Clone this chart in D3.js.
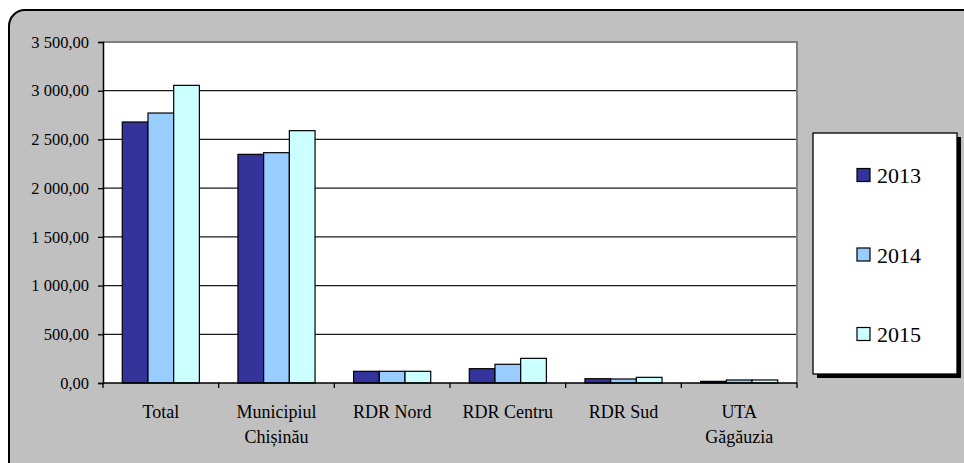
<!DOCTYPE html>
<html>
<head>
<meta charset="utf-8">
<script src="https://cdn.jsdelivr.net/npm/d3@7"></script>
<style>
  html, body { margin: 0; padding: 0; background: #fff; }
  svg { display: block; }
</style>
</head>
<body>
<svg id="chart" width="964" height="463"></svg>
<script>
// Regions and yearly values
const categories = ["Total", "Municipiul Chișinău", "RDR Nord", "RDR Centru", "RDR Sud", "UTA Găgăuzia"];
const categoryLines = [["Total"], ["Municipiul", "Chișinău"], ["RDR Nord"], ["RDR Centru"], ["RDR Sud"], ["UTA", "Găgăuzia"]];
const years = ["2013", "2014", "2015"];
const values2013 = [2679, 2347, 120, 147, 44, 17];
const values2014 = [2771, 2364, 120, 192, 41, 31];
const values2015 = [3055, 2590, 120, 253, 58, 31];
const yTicks = [0, 500, 1000, 1500, 2000, 2500, 3000, 3500];
const colors = ["#333399", "#99CCFF", "#CCFFFF"];

const seriesValues = [values2013, values2014, values2015];
const FONT = "'Liberation Serif', 'Times New Roman', Times, 'Nimbus Roman', 'Nimbus Roman No9 L', FreeSerif, 'Noto Serif', 'DejaVu Serif', Georgia, serif";

const svg = d3.select("#chart");

// Outer chart frame (rounded, grey)
svg.append("rect")
  .attr("x", 9).attr("y", 10)
  .attr("width", 1000).attr("height", 500)
  .attr("rx", 16).attr("ry", 16)
  .attr("fill", "#C0C0C0")
  .attr("stroke", "#000").attr("stroke-width", 2);

const plot = { left: 103, right: 797, top: 42, bottom: 383 };

const x0 = d3.scaleBand().domain(categories).range([plot.left, plot.right]).padding(0);
const x1 = d3.scaleBand().domain(years).range([0, x0.bandwidth()]).paddingInner(0).paddingOuter(0.75);
const y = d3.scaleLinear().domain([0, 3500]).range([plot.bottom, plot.top]);

// Plot area background
svg.append("rect")
  .attr("x", plot.left).attr("y", plot.top)
  .attr("width", plot.right - plot.left).attr("height", plot.bottom - plot.top)
  .attr("fill", "#fff");

// Horizontal gridlines
svg.append("g")
  .selectAll("line")
  .data(yTicks.filter(t => t > 0 && t < 3500))
  .join("line")
  .attr("x1", plot.left).attr("x2", plot.right)
  .attr("y1", d => y(d)).attr("y2", d => y(d))
  .attr("stroke", "#1a1a1a").attr("stroke-width", 1.3);

// Plot area border (top and right)
svg.append("path")
  .attr("d", `M${plot.left},${y(3500)}H${plot.right}V${plot.bottom}`)
  .attr("fill", "none")
  .attr("stroke", "#808080").attr("stroke-width", 2);

// Bars
const rows = categories.map((c, i) => ({ cat: c, vals: years.map((yr, s) => ({ yr, s, v: seriesValues[s][i] })) }));
svg.append("g")
  .selectAll("g")
  .data(rows)
  .join("g")
  .attr("transform", d => `translate(${x0(d.cat)},0)`)
  .selectAll("rect")
  .data(d => d.vals)
  .join("rect")
  .attr("x", d => x1(d.yr))
  .attr("y", d => y(d.v))
  .attr("width", x1.bandwidth())
  .attr("height", d => y(0) - y(d.v))
  .attr("fill", d => colors[d.s])
  .attr("stroke", "#000").attr("stroke-width", 1.2);

// Y axis
const locale = d3.formatLocale({ decimal: ",", thousands: "\u00a0", grouping: [3], currency: ["", ""] });
const fmt = locale.format(",.2f");
const yAxis = svg.append("g")
  .attr("transform", `translate(${plot.left},0)`)
  .call(d3.axisLeft(y).tickValues(yTicks).tickFormat(fmt).tickSize(5).tickPadding(9));
yAxis.attr("font-family", null).attr("font-size", null);
yAxis.select(".domain").attr("stroke", "#000").attr("stroke-width", 1.5);
yAxis.selectAll(".tick line").attr("stroke", "#000").attr("stroke-width", 1.3);
yAxis.selectAll(".tick text")
  .style("font-family", FONT)
  .style("font-size", "16.5px")
  .attr("fill", "#000");

// X axis with tick marks at category boundaries
const xAxisG = svg.append("g").attr("transform", `translate(0,${plot.bottom})`);
xAxisG.append("line")
  .attr("x1", plot.left).attr("x2", plot.right)
  .attr("stroke", "#000").attr("stroke-width", 1.5);
const boundaries = categories.map(c => x0(c)).concat([plot.right]);
xAxisG.selectAll("line.tk")
  .data(boundaries)
  .join("line")
  .attr("class", "tk")
  .attr("x1", d => d).attr("x2", d => d)
  .attr("y1", 0).attr("y2", 5)
  .attr("stroke", "#000").attr("stroke-width", 1.3);

// Category labels
const labels = svg.append("g");
categories.forEach((c, i) => {
  const cx = x0(c) + x0.bandwidth() / 2;
  const t = labels.append("text")
    .attr("x", cx)
    .attr("y", 418)
    .attr("text-anchor", "middle")
    .style("font-family", FONT)
    .style("font-size", "18px")
    .attr("fill", "#000");
  categoryLines[i].forEach((line, k) => {
    t.append("tspan")
      .attr("x", cx)
      .attr("dy", k === 0 ? 0 : 25)
      .text(line);
  });
});

// Legend
const lg = { x: 813, y: 133, w: 144, h: 241 };
svg.append("rect")
  .attr("x", lg.x + 4).attr("y", lg.y + 4)
  .attr("width", lg.w).attr("height", lg.h)
  .attr("fill", "#000");
svg.append("rect")
  .attr("x", lg.x).attr("y", lg.y)
  .attr("width", lg.w).attr("height", lg.h)
  .attr("fill", "#fff")
  .attr("stroke", "#000").attr("stroke-width", 1.3);

const legendY = d3.scalePoint().domain(years).range([175, 334]);
const items = svg.append("g")
  .selectAll("g")
  .data(years)
  .join("g")
  .attr("transform", d => `translate(857,${legendY(d)})`);
items.append("rect")
  .attr("x", 0).attr("y", -6.5)
  .attr("width", 13).attr("height", 13)
  .attr("fill", (d, i) => colors[i])
  .attr("stroke", "#000").attr("stroke-width", 1.2);
items.append("text")
  .attr("x", 20).attr("y", 8)
  .style("font-family", FONT)
  .style("font-size", "22px")
  .attr("fill", "#000")
  .text(d => d);
</script>
</body>
</html>
